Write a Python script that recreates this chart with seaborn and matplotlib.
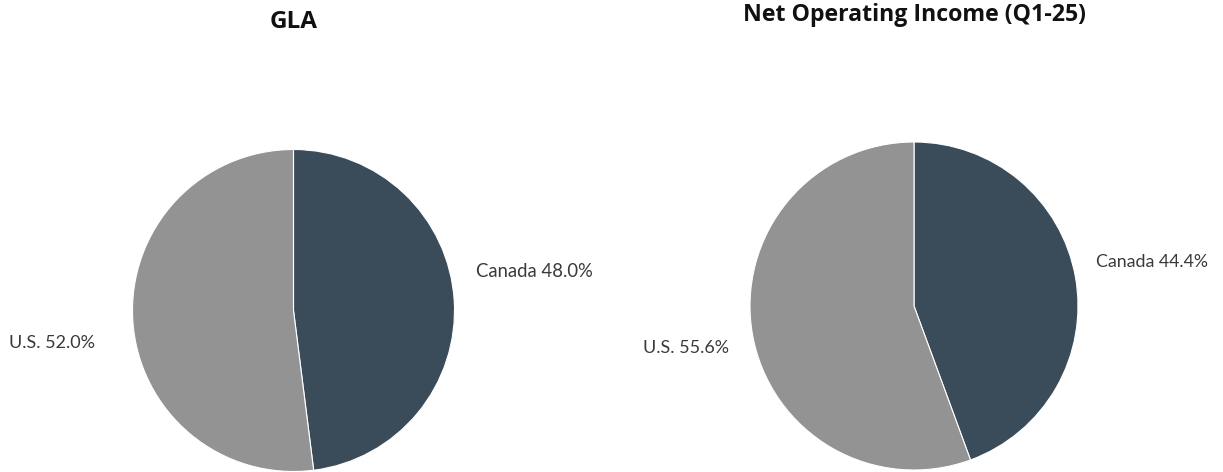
import matplotlib
matplotlib.use("Agg")
import matplotlib.pyplot as plt
import seaborn as sns

sns.set_theme(style="white")
plt.rcParams['font.family'] = ['Lato', 'DejaVu Sans']

titles = ["GLA", "Net Operating Income (Q1-25)"]
categories = ["Canada", "U.S."]
gla_values = [48.0, 52.0]
noi_values = [44.4, 55.6]
colors = ["#3a4b5a", "#939393"]

W, H = 1223, 472
fig = plt.figure(figsize=(W / 100, H / 100), dpi=100)
renderer = fig.canvas.get_renderer()

def fit_width(txt, target_px):
    for _ in range(3):
        w = txt.get_window_extent(renderer).width
        txt.set_fontsize(txt.get_fontsize() * target_px / w)

# (center x, center y from top, radius) in pixels
layouts = [(293.5, 310.5, 161), (914, 306, 164)]
# label anchor (data units), horizontal alignment, target width px
label_pos = [
    [(1.134, 0.208, "left", 117), (-1.233, -0.233, "right", 86)],
    [(1.110, 0.238, "left", 112), (-1.128, -0.287, "right", 86)],
]
title_base = [28, 21]
title_w = [48, 343]

for i, (vals, (cx, cy, r)) in enumerate(zip([gla_values, noi_values], layouts)):
    ax = fig.add_axes([(cx - r) / W, (H - cy - r) / H, 2 * r / W, 2 * r / H])
    ax.pie(vals, colors=colors, startangle=90, counterclock=False,
           wedgeprops=dict(edgecolor="white", linewidth=0.8), radius=1)
    ax.set_xlim(-1, 1)
    ax.set_ylim(-1, 1)
    ax.set_aspect("equal")
    ax.axis("off")
    for cat, v, (lx, ly, ha, tw) in zip(categories, vals, label_pos[i]):
        t = ax.text(lx, ly, f"{cat} {v:.1f}%", ha=ha, va="baseline",
                    fontsize=12.5, color="#3a3a3a", fontweight="normal",
                    clip_on=False)
        fit_width(t, tw)
    tt = fig.text(cx / W, 1 - title_base[i] / H, titles[i], ha="center",
                  va="baseline", fontsize=15, fontweight="bold",
                  color="#111111", family=["Open Sans", "DejaVu Sans"])
    fit_width(tt, title_w[i])

fig.savefig("out.png", dpi=100)
